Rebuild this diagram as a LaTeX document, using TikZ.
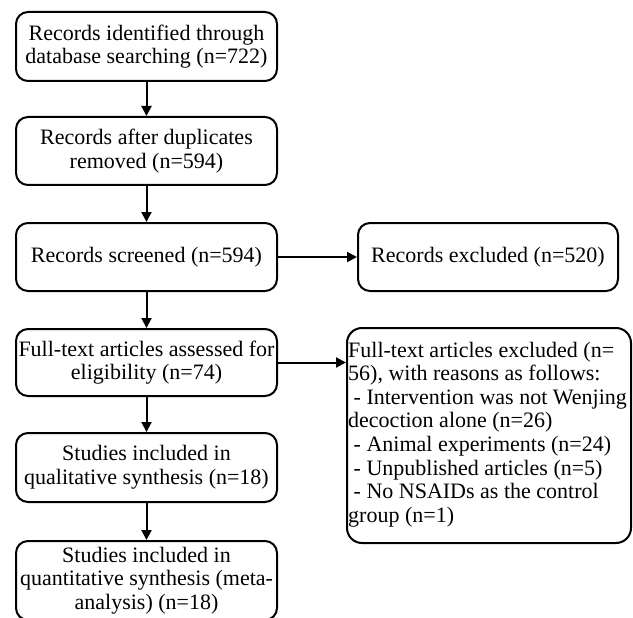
\documentclass[tikz,border=0pt]{standalone}
\usepackage{fontspec}
\setmainfont{Liberation Serif}
\usetikzlibrary{arrows.meta}
\begin{document}
\begin{tikzpicture}[x=1pt,y=-1pt,
  txt/.style={font=\fontsize{22}{23.6}\selectfont},
  box/.style={draw, line width=2pt, rounded corners=12pt, minimum width=261pt,
    inner sep=0pt, align=center, txt},
  arr/.style={-{Triangle[length=10pt,width=10pt]}, line width=2pt}]
\useasboundingbox (0,0) rectangle (633,618);

\node[box, minimum height=69pt] (b1) at (146.5,46.5)
  {Records identified through\\database searching (n=722)};
\node[box, minimum height=68pt] (b2) at (146.5,151)
  {Records after duplicates\\removed (n=594)};
\node[box, minimum height=68pt] (b3) at (146.5,257)
  {Records screened (n=594)};
\node[box, minimum height=67pt] (b4) at (146.5,362.5)
  {Full-text articles assessed for\\eligibility (n=74)};
\node[box, minimum height=69pt] (b5) at (146.5,467.5)
  {Studies included in\\qualitative synthesis (n=18)};
\node[box, minimum height=79pt] (b6) at (146.5,580.5)
  {Studies included in\\quantitative synthesis (meta-\\analysis) (n=18)};

\node[box, minimum width=260pt, minimum height=68pt] (r1) at (488,257)
  {Records excluded (n=520)};
\node[box, rounded corners=15pt, minimum width=284pt, minimum height=215pt] (r2) at (489,435.5) {};
\node[txt, anchor=west, align=left, inner sep=0pt] (r2t) at (348,434.5)
  {Full-text articles excluded (n=\\
   56), with reasons as follows:\\
   \hspace*{0.25em}- Intervention was not Wenjing\\
   decoction alone (n=26)\\
   \hspace*{0.25em}- Animal experiments (n=24)\\
   \hspace*{0.25em}- Unpublished articles (n=5)\\
   \hspace*{0.25em}- No NSAIDs as the control\\
   group (n=1)};

\draw[arr] (b1) -- (b2);
\draw[arr] (b2) -- (b3);
\draw[arr] (b3) -- (b4);
\draw[arr] (b4) -- (b5);
\draw[arr] (b5) -- (b6);
\draw[arr] (b3) -- (r1);
\draw[arr] (b4.east) -- (b4.east -| r2.west);
\end{tikzpicture}
\end{document}
